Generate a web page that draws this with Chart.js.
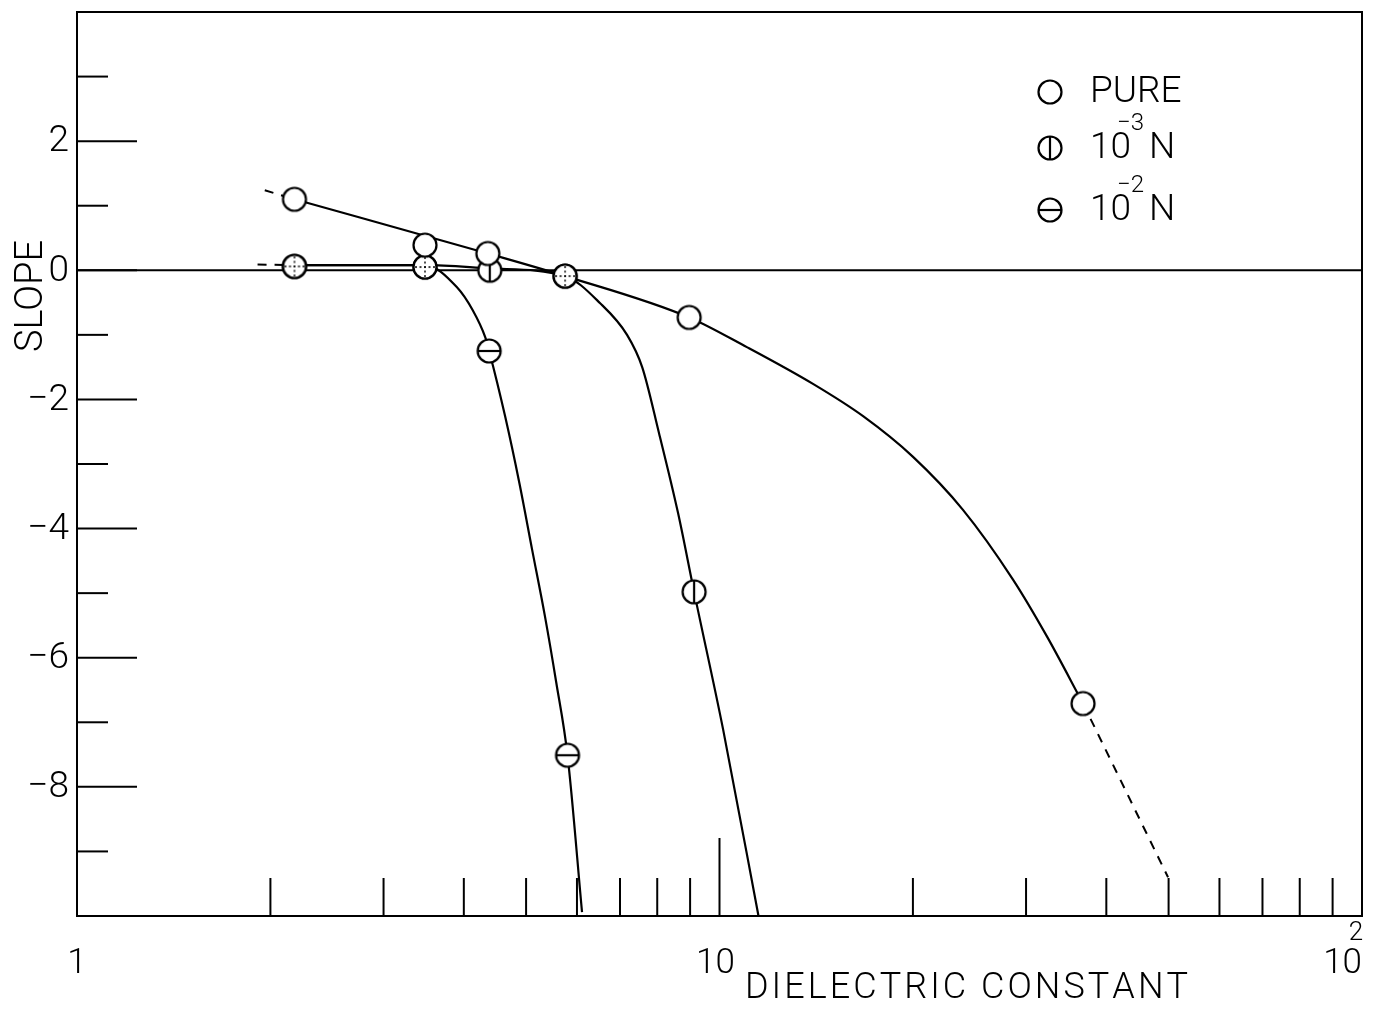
<!DOCTYPE html>
<html>
<head>
<meta charset="utf-8">
<script src="https://cdn.jsdelivr.net/npm/chart.js@4.4.1/dist/chart.umd.min.js"></script>
<style>
  body { margin: 0; background: #fff; }
  #wrap { width: 1373px; height: 1014px; }
</style>
</head>
<body>
<div id="wrap"><canvas id="slopeChart" width="1373" height="1014"></canvas></div>
<script>
// measured points (dielectric constant, slope)
const pureX = [2.18, 3.48, 4.36, 5.75, 8.97, 36.8];
const pureY = [1.10, 0.39, 0.26, -0.09, -0.73, -6.71];
const n3X = [2.18, 3.48, 4.39, 5.75, 9.13];
const n3Y = [0.06, 0.05, 0.00, -0.09, -4.98];
const n2X = [2.18, 3.48, 4.38, 5.80];
const n2Y = [0.06, 0.05, -1.25, -7.51];

// hand drawn curves
const pureCurveX = [2.18, 4.36, 5.75, 8.97, 11.03, 13.98, 16.73, 20.01, 23.93, 28.63, 32.33, 36.8];
const pureCurveY = [1.10, 0.26, -0.09, -0.73, -1.19, -1.76, -2.26, -2.89, -3.71, -4.79, -5.67, -6.71];
const n3CurveX = [2.18, 3.48, 4.39, 5.75, 6.52, 7.18, 7.58, 8.05, 8.62, 9.13, 10.13, 11.5];
const n3CurveY = [0.08, 0.08, 0.03, -0.09, -0.51, -1.00, -1.50, -2.52, -3.76, -4.98, -7.11, -10.0];
const n2CurveX = [2.18, 3.48, 3.90, 4.13, 4.32, 4.38, 4.64, 4.88, 5.11, 5.35, 5.57, 5.80, 6.11];
const n2CurveY = [0.08, 0.08, -0.26, -0.62, -1.04, -1.25, -2.27, -3.29, -4.33, -5.36, -6.38, -7.51, -9.94];

// dashed extrapolations
const pureLeftX = [1.96, 2.18];
const pureLeftY = [1.24, 1.10];
const pureRightX = [36.8, 49.9];
const pureRightY = [-6.71, -9.40];
const lowLeftX = [1.91, 2.18];
const lowLeftY = [0.09, 0.08];

// axes
const yMajorTicks = [2, 0, -2, -4, -6, -8];
const yTickLabels = ['2', '0', '\u22122', '\u22124', '\u22126', '\u22128'];
const yMinorTicks = [3, 1, -1, -3, -5, -7, -9];
const xMinorTicks = [2, 3, 4, 5, 6, 7, 8, 9, 20, 30, 40, 50, 60, 70, 80, 90];
const xDecades = [1, 10, 100];
const xDecadeLabels = [['1', ''], ['10', ''], ['10', '2']];
const legendParts = [['PURE', '', ''], ['10', '\u22123', 'N'], ['10', '\u22122', 'N']];

const FONT = '"Roboto", "Open Sans", "DejaVu Sans", sans-serif';

function toPts(xs, ys) {
    return xs.map((x, i) => ({ x: x, y: ys[i] }));
}

// marker glyphs: plain circle, circle with vertical bar, circle with horizontal bar, dotted cross
function makeMarker(kind) {
    const c = document.createElement('canvas');
    c.width = 30; c.height = 30;
    const g = c.getContext('2d');
    g.lineWidth = 2.2;
    g.strokeStyle = '#000';
    g.fillStyle = '#fff';
    g.beginPath();
    g.arc(15, 15, 11.5, 0, Math.PI * 2);
    g.fill();
    g.stroke();
    if (kind === 'vbar') {
        g.beginPath(); g.moveTo(15, 4); g.lineTo(15, 26); g.stroke();
    } else if (kind === 'hbar') {
        g.beginPath(); g.moveTo(4, 15); g.lineTo(26, 15); g.stroke();
    } else if (kind === 'dotted') {
        g.lineWidth = 1.4;
        g.setLineDash([2, 2.5]);
        g.beginPath(); g.moveTo(15, 5); g.lineTo(15, 25); g.stroke();
        g.beginPath(); g.moveTo(5, 15); g.lineTo(25, 15); g.stroke();
    }
    return c;
}
const mk = {
    open: makeMarker('open'),
    vbar: makeMarker('vbar'),
    hbar: makeMarker('hbar'),
    dotted: makeMarker('dotted')
};

const paperAxes = {
    id: 'paperAxes',
    beforeDatasetsDraw(chart) {
        const ctx = chart.ctx;
        const a = chart.chartArea;
        const xs = chart.scales.x, ys = chart.scales.y;
        ctx.save();
        ctx.strokeStyle = '#000';
        ctx.lineWidth = 2;
        ctx.strokeRect(a.left, a.top, a.right - a.left, a.bottom - a.top);
        // zero line
        const y0 = ys.getPixelForValue(0);
        ctx.beginPath(); ctx.moveTo(a.left, y0); ctx.lineTo(a.right, y0); ctx.stroke();
        // inside ticks on the slope axis
        yMajorTicks.forEach(v => {
            const p = ys.getPixelForValue(v);
            ctx.beginPath(); ctx.moveTo(a.left, p); ctx.lineTo(a.left + 60, p); ctx.stroke();
        });
        yMinorTicks.forEach(v => {
            const p = ys.getPixelForValue(v);
            ctx.beginPath(); ctx.moveTo(a.left, p); ctx.lineTo(a.left + 31, p); ctx.stroke();
        });
        // inside ticks on the log axis
        xMinorTicks.forEach(v => {
            const p = xs.getPixelForValue(v);
            ctx.beginPath(); ctx.moveTo(p, a.bottom); ctx.lineTo(p, a.bottom - 38); ctx.stroke();
        });
        const p10 = xs.getPixelForValue(10);
        ctx.beginPath(); ctx.moveTo(p10, a.bottom); ctx.lineTo(p10, a.bottom - 78); ctx.stroke();
        ctx.restore();
    },
    afterDraw(chart) {
        const ctx = chart.ctx;
        const a = chart.chartArea;
        const xs = chart.scales.x, ys = chart.scales.y;
        ctx.save();
        ctx.fillStyle = '#000';

        // y tick labels
        ctx.font = '300 37px ' + FONT;
        ctx.textAlign = 'right';
        ctx.textBaseline = 'middle';
        yMajorTicks.forEach((v, i) => {
            ctx.fillText(yTickLabels[i], a.left - 8, ys.getPixelForValue(v) + 1);
        });

        // x decade labels
        ctx.textBaseline = 'alphabetic';
        xDecades.forEach((v, i) => {
            const p = xs.getPixelForValue(v);
            const base = xDecadeLabels[i][0], sup = xDecadeLabels[i][1];
            ctx.font = '300 35px ' + FONT;
            if (sup) {
                ctx.textAlign = 'right';
                ctx.fillText(base, p, 973);
                ctx.font = '300 26px ' + FONT;
                ctx.textAlign = 'center';
                ctx.fillText(sup, p - 6, 940);
            } else {
                ctx.textAlign = 'center';
                ctx.fillText(base, p - (base.length > 1 ? 4 : 0), 973);
            }
        });

        // x axis title, spread out like the stencil lettering
        const xTitle = 'DIELECTRIC CONSTANT';
        ctx.font = '300 36px ' + FONT;
        ctx.textAlign = 'left';
        const chars = xTitle.split('');
        const natural = chars.reduce((s, c) => s + ctx.measureText(c).width, 0);
        const gap = (443 - natural) / (chars.length - 1);
        let cx = 745;
        chars.forEach(c => {
            ctx.fillText(c, cx, 998);
            cx += ctx.measureText(c).width + gap;
        });

        // y axis title
        ctx.save();
        ctx.translate(42, 296);
        ctx.rotate(-Math.PI / 2);
        ctx.font = '300 38px ' + FONT;
        ctx.textAlign = 'center';
        ctx.fillText('SLOPE', 0, 0);
        ctx.restore();

        // legend
        const legendY = [92, 148, 210];
        const legendMk = [mk.open, mk.vbar, mk.hbar];
        legendParts.forEach((parts, i) => {
            const ly = legendY[i];
            ctx.drawImage(legendMk[i], 1050 - 15, ly - 15);
            ctx.textAlign = 'left';
            ctx.font = '300 37px ' + FONT;
            const baseY = ly + 10;
            ctx.fillText(parts[0], 1090, baseY);
            if (parts[1]) {
                ctx.font = '300 24px ' + FONT;
                ctx.fillText(parts[1], 1117, ly - 18);
                ctx.font = '300 37px ' + FONT;
                ctx.fillText(parts[2], 1149, baseY);
            }
        });
        ctx.restore();
    }
};

const lineStyle = {
    showLine: true,
    pointRadius: 0,
    borderColor: '#000',
    borderWidth: 2.2,
    fill: false,
    cubicInterpolationMode: 'monotone',
    order: 2
};
const dashStyle = {
    showLine: true,
    pointRadius: 0,
    borderColor: '#000',
    borderWidth: 2,
    borderDash: [9, 8],
    fill: false,
    order: 2
};

const ctx = document.getElementById('slopeChart').getContext('2d');
const slopeChart = new Chart(ctx, {
    type: 'scatter',
    data: {
        datasets: [
            {
                label: 'PURE',
                data: toPts(pureX, pureY),
                showLine: false,
                pointStyle: [mk.open, mk.open, mk.open, mk.dotted, mk.open, mk.open],
                order: 0
            },
            {
                label: '10^-3 N',
                data: toPts(n3X, n3Y),
                showLine: false,
                pointStyle: [mk.dotted, mk.dotted, mk.vbar, mk.dotted, mk.vbar],
                order: 1
            },
            {
                label: '10^-2 N',
                data: toPts(n2X, n2Y),
                showLine: false,
                pointStyle: [mk.dotted, mk.dotted, mk.hbar, mk.hbar],
                order: 1
            },
            Object.assign({ label: 'pure curve', data: toPts(pureCurveX, pureCurveY) }, lineStyle),
            Object.assign({ label: '10^-3 curve', data: toPts(n3CurveX, n3CurveY) }, lineStyle),
            Object.assign({ label: '10^-2 curve', data: toPts(n2CurveX, n2CurveY) }, lineStyle),
            Object.assign({ label: 'pure left', data: toPts(pureLeftX, pureLeftY) }, dashStyle),
            Object.assign({ label: 'pure right', data: toPts(pureRightX, pureRightY) }, dashStyle),
            Object.assign({ label: 'salt left', data: toPts(lowLeftX, lowLeftY) }, dashStyle)
        ]
    },
    options: {
        responsive: false,
        animation: false,
        layout: { padding: { left: 77, top: 12, right: 11, bottom: 98 } },
        plugins: {
            legend: { display: false },
            tooltip: { enabled: false }
        },
        scales: {
            x: { type: 'logarithmic', min: 1, max: 100, display: false },
            y: { type: 'linear', min: -10, max: 4, display: false }
        }
    },
    plugins: [paperAxes]
});
</script>
</body>
</html>
